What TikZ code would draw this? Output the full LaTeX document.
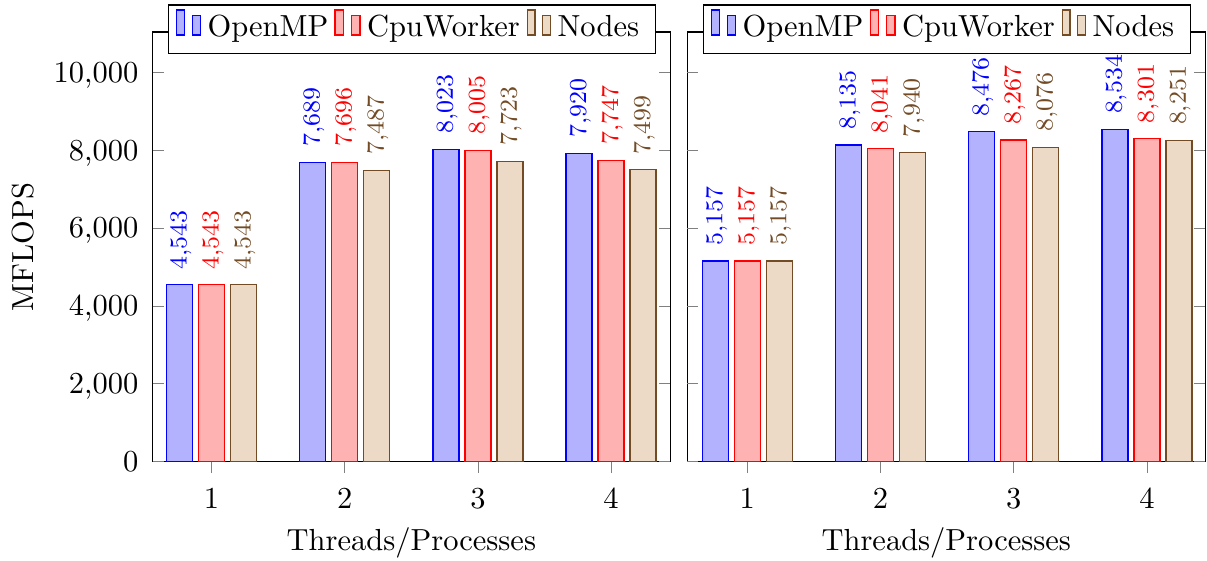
\documentclass[tikz,border=0pt]{standalone}
\usepackage{xcolor}

% three bars of one group with their value labels
% #1 name prefix, #2 group centre, #3-#5 values, #6-#8 printed values
\newcommand\bargroup[8]{%
  \draw[barA] ({#2-32-13},461.5) rectangle ({#2-32+13},{461.5-#3*0.0389});
  \draw[barB] ({#2-13},461.5) rectangle ({#2+13},{461.5-#4*0.0389});
  \draw[barC] ({#2+32-13},461.5) rectangle ({#2+32+13},{461.5-#5*0.0389});
  \node[vallabel, text=blue] (#1a) at ({#2-32+7},{461.5-#3*0.0389-15}) {#6};
  \node[vallabel, text=red] (#1b) at ({#2+7},{461.5-#4*0.0389-15}) {#7};
  \node[vallabel, text=brown!60!black] (#1c) at ({#2+32+7},{461.5-#5*0.0389-15}) {#8};
  \draw[tickmark] (#2,461.5) -- (#2,472.5);
}

% legend box with its three entries, shifted by #2
\newcommand\legendrow[2]{%
  \begin{scope}[xshift=#2*0.328pt]
    \node[legendbox, minimum width=487*0.328pt, minimum height=48.4*0.328pt, anchor=north west]
      (#1box) at (168,4.3) {};
    \draw[barA] (176.4,35) rectangle (184.7,10);
    \draw[barA] (192.2,35) rectangle (200.8,15.7);
    \node[anchor=base west, inner sep=0pt] (#1open) at (207,36) {OpenMP};
    \draw[barB] (335.1,35) rectangle (343.4,10);
    \draw[barB] (351.3,35) rectangle (359.9,15.7);
    \node[anchor=base west, inner sep=0pt] (#1cpu) at (366.5,36) {CpuWorker};
    \draw[barC] (527.2,35) rectangle (535,10);
    \draw[barC] (542.6,35) rectangle (550.5,15.7);
    \node[anchor=base west, inner sep=0pt] (#1nodes) at (557,36) {Nodes};
  \end{scope}
}

% axis frame with inward y ticks, #2 = left edge, #3 = right edge
\newcommand\axisframe[3]{%
  \draw[axisline] (#2,32) rectangle (#3,461.5);
  \foreach \v in {0,2000,4000,6000,8000,10000}{
    \draw[tickmark] (#2,{461.5-\v*0.0389}) -- ({#2+11},{461.5-\v*0.0389});
    \draw[tickmark] ({#3-11},{461.5-\v*0.0389}) -- (#3,{461.5-\v*0.0389});
  }
  \node[anchor=base, inner sep=0pt] (#1xlabel) at ({(#2+#3)/2},550) {Threads/Processes};
}

\begin{document}
\begin{tikzpicture}[x=0.328pt,y=-0.328pt,
  axisline/.style={black, line width=0.4pt},
  tickmark/.style={gray, very thin},
  barA/.style={draw=blue, fill=blue!30!white, line width=0.4pt},
  barB/.style={draw=red, fill=red!30!white, line width=0.4pt},
  barC/.style={draw=brown!60!black, fill=brown!30!white, line width=0.4pt},
  vallabel/.style={font=\footnotesize, rotate=90, anchor=base west, inner sep=0pt},
  legendbox/.style={draw=black, fill=white, line width=0.4pt, inner sep=0pt},
]
\useasboundingbox (0,0) rectangle (1207,560);

% left panel
\axisframe{L}{152.5}{670.2}
\foreach \v/\t in {0/0,2000/{2,000},4000/{4,000},6000/{6,000},8000/{8,000},10000/{10,000}}
  \node[anchor=base east, inner sep=0pt] (ytl\v) at (139,{461.5-\v*0.0389+9.8}) {\t};
\node[rotate=90, anchor=base, inner sep=0pt] (ylabel) at (33.3,247) {MFLOPS};

\bargroup{L1}{211.5}{4543}{4543}{4543}{4,543}{4,543}{4,543}
\bargroup{L2}{344.7}{7689}{7696}{7487}{7,689}{7,696}{7,487}
\bargroup{L3}{477.9}{8023}{8005}{7723}{8,023}{8,005}{7,723}
\bargroup{L4}{611.1}{7920}{7747}{7499}{7,920}{7,747}{7,499}
\foreach \i/\c in {1/211.5,2/344.7,3/477.9,4/611.1}
  \node[anchor=base, inner sep=0pt] (xtL\i) at (\c,508) {\i};
\legendrow{L}{0}

% right panel
\axisframe{R}{687.3}{1205.2}
\bargroup{R1}{747.3}{5157}{5157}{5157}{5,157}{5,157}{5,157}
\bargroup{R2}{880.5}{8135}{8041}{7940}{8,135}{8,041}{7,940}
\bargroup{R3}{1013.7}{8476}{8267}{8076}{8,476}{8,267}{8,076}
\bargroup{R4}{1146.9}{8534}{8301}{8251}{8,534}{8,301}{8,251}
\foreach \i/\c in {1/747.3,2/880.5,3/1013.7,4/1146.9}
  \node[anchor=base, inner sep=0pt] (xtR\i) at (\c,508) {\i};
\legendrow{R}{535}
\end{tikzpicture}
\end{document}
